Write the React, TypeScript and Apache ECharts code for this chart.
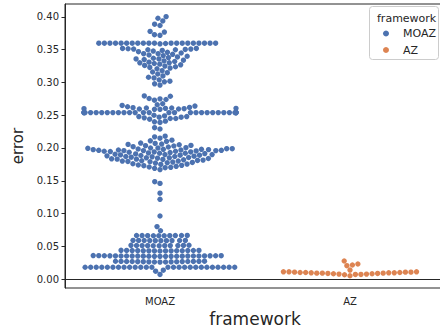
import React, { useEffect, useRef } from "react";
import * as echarts from "echarts";

// ---------- data ----------
const categories = ["MOAZ", "AZ"];
const yTicks = [0, 0.05, 0.1, 0.15, 0.2, 0.25, 0.3, 0.35, 0.4];

const moazTop = [0.4005, 0.398, 0.394, 0.389, 0.387, 0.378, 0.377, 0.373, 0.372];
const moazRow036 = [
  0.36, 0.36, 0.36, 0.36, 0.36, 0.36, 0.36, 0.36, 0.36, 0.36, 0.36,
  0.36, 0.36, 0.36, 0.36, 0.36, 0.36, 0.36, 0.36, 0.36, 0.3595, 0.359,
];
const moazCone = [
  0.352, 0.352, 0.3515, 0.351, 0.351, 0.3505, 0.35, 0.35, 0.349, 0.348,
  0.347, 0.346, 0.345, 0.344, 0.344, 0.343, 0.342, 0.341,
  0.34, 0.339, 0.338, 0.337, 0.336, 0.336, 0.335, 0.334,
  0.333, 0.332, 0.331, 0.33, 0.33, 0.329, 0.328, 0.327,
  0.326, 0.325, 0.324, 0.323, 0.322, 0.321,
  0.318, 0.316, 0.315, 0.313,
  0.31, 0.308, 0.307,
  0.304, 0.302, 0.301,
  0.298, 0.296,
];
const moazUpper025 = [
  0.2795, 0.279, 0.2755, 0.275, 0.274, 0.273, 0.2675, 0.266, 0.265, 0.264, 0.263,
  0.262, 0.2615, 0.261, 0.261, 0.2605, 0.2605, 0.26, 0.26, 0.2595, 0.2595, 0.259, 0.259,
];
const moazRow0254 = [
  0.254, 0.254, 0.254, 0.254, 0.254, 0.254, 0.254, 0.254, 0.254, 0.254,
  0.254, 0.254, 0.254, 0.254, 0.254, 0.254, 0.254, 0.254, 0.254, 0.254,
  0.254, 0.254, 0.254, 0.254, 0.254, 0.254, 0.254, 0.254, 0.254, 0.254,
];
const moazLower025 = [
  0.25, 0.249, 0.248, 0.248, 0.247, 0.247, 0.246, 0.245, 0.245, 0.244,
  0.241, 0.24, 0.239, 0.231, 0.229,
];
const moazMid020 = [
  0.218, 0.217, 0.215, 0.212, 0.211, 0.21,
  0.2075, 0.207, 0.206, 0.2055, 0.205, 0.204, 0.2035, 0.203, 0.202, 0.2015,
  0.2005, 0.2, 0.2, 0.1995, 0.199, 0.199, 0.1985, 0.198, 0.198, 0.1975, 0.197, 0.197,
  0.1965, 0.196, 0.196, 0.1955, 0.195, 0.195, 0.1945, 0.194, 0.194, 0.1935, 0.193,
  0.1975, 0.1965, 0.196,
  0.1925, 0.192, 0.192, 0.1915, 0.191, 0.1905, 0.19, 0.19, 0.1895, 0.189, 0.189,
  0.1885, 0.188, 0.1875, 0.187, 0.187, 0.1865, 0.186, 0.1855, 0.185, 0.185,
  0.1845, 0.184, 0.1835, 0.183, 0.183, 0.1825, 0.182, 0.1815, 0.181,
  0.1805, 0.18, 0.18, 0.1795, 0.179, 0.1785, 0.178, 0.1775,
  0.177, 0.176, 0.1755, 0.175, 0.174, 0.1735, 0.173, 0.172,
  0.171, 0.1705, 0.17, 0.169, 0.167,
];
const moazSparse = [0.1486, 0.146, 0.131, 0.1217, 0.0962, 0.08, 0.0737];
const moazRow0066 = [0.066, 0.066, 0.0661, 0.0662, 0.0662, 0.0663, 0.0663, 0.0664, 0.0664, 0.0665];
const moazRow0059 = [0.0585, 0.0585, 0.0586, 0.0587, 0.0587, 0.0588, 0.0588, 0.0589, 0.0589, 0.059];
const moazRow0051 = [
  0.0508, 0.0508, 0.0509, 0.0509, 0.051, 0.051, 0.0511, 0.0512, 0.0513, 0.0514, 0.0515,
];
const moazRow0043 = [
  0.0428, 0.0429, 0.0429, 0.043, 0.043, 0.0431, 0.0432, 0.0432, 0.0433, 0.0434,
  0.0434, 0.0435, 0.0436, 0.0437, 0.0438,
];
const moazRow0035 = [
  0.0346, 0.0346, 0.0347, 0.0347, 0.0348, 0.0348, 0.0349, 0.0349, 0.035, 0.035,
  0.035, 0.0351, 0.0351, 0.0352, 0.0352, 0.0353, 0.0353, 0.0354, 0.0354, 0.0355,
  0.0355, 0.0356, 0.0357, 0.0358,
];
const moazRow0027 = [
  0.0258, 0.026, 0.026, 0.0262, 0.0263, 0.0264, 0.0265, 0.0265, 0.0266, 0.0267,
  0.0268, 0.0268, 0.0269, 0.027, 0.027, 0.0271, 0.0272,
];
const moazRow0018 = [
  0.018, 0.018, 0.018, 0.018, 0.018, 0.018, 0.018, 0.018, 0.018, 0.018,
  0.018, 0.018, 0.018, 0.018, 0.018, 0.018, 0.018, 0.018, 0.018, 0.018,
  0.018, 0.018, 0.018, 0.018, 0.018, 0.018,
];
const moazBottom = [0.007, 0.012, 0.0135];
const azErrors = [
  0.005, 0.0065, 0.007, 0.007, 0.0075, 0.0075, 0.008, 0.008, 0.0085, 0.0085,
  0.009, 0.009, 0.009, 0.0095, 0.0095, 0.0095, 0.01, 0.01, 0.01, 0.0105,
  0.0105, 0.0105, 0.011, 0.011, 0.011,
  0.0137, 0.0204, 0.0214, 0.0229, 0.0275,
];

const moazErrors = [
  ...moazTop, ...moazRow036, ...moazCone, ...moazUpper025, ...moazRow0254,
  ...moazLower025, ...moazMid020, ...moazSparse, ...moazRow0066, ...moazRow0059,
  ...moazRow0051, ...moazRow0043, ...moazRow0035, ...moazRow0027, ...moazRow0018,
  ...moazBottom,
];

// ---------- style ----------
const FONT = "DejaVu Sans";
const TEXT = "#262626";
const COLORS = ["#4c72b0", "#dd8452"];
const Y_MIN = -0.0137;
const Y_MAX = 0.4198;
const COLLIDE_R = 2.65;
const DOT_R = 2.7;

// seaborn-style beeswarm in pixel space
function beeswarm(ys: number[], mid: number, r: number, half: number): number[] {
  const n = ys.length;
  const order = ys.map((_, i) => i).sort((a, b) => ys[b] - ys[a] || a - b);
  const px: number[] = [];
  const py: number[] = [];
  const xs: number[] = new Array(n).fill(mid);
  const d = 2 * r;
  const d2 = d * d;
  for (const idx of order) {
    const y = ys[idx];
    let start = px.length;
    while (start > 0 && Math.abs(y - py[start - 1]) < d) start--;
    const nb: number[] = [];
    for (let k = start; k < px.length; k++) nb.push(k);
    const cands: number[] = [mid];
    let leftFirst = true;
    for (const k of nb) {
      const dy = y - py[k];
      const dx = Math.sqrt(Math.max(d2 - dy * dy, 0)) * 1.05;
      const cl = px[k] - dx;
      const cr = px[k] + dx;
      if (leftFirst) cands.push(cl, cr);
      else cands.push(cr, cl);
      leftFirst = !leftFirst;
    }
    const sorted = cands
      .map((x, i) => ({ x, i }))
      .sort((a, b) => Math.abs(a.x - mid) - Math.abs(b.x - mid) || a.i - b.i);
    let chosen = mid;
    for (const c of sorted) {
      let ok = true;
      for (const k of nb) {
        const ddx = px[k] - c.x;
        const ddy = py[k] - y;
        if (ddx * ddx + ddy * ddy < d2 - 1e-9) {
          ok = false;
          break;
        }
      }
      if (ok) {
        chosen = c.x;
        break;
      }
    }
    px.push(chosen);
    py.push(y);
    xs[idx] = Math.max(mid - half, Math.min(mid + half, chosen));
  }
  return xs;
}

function makeRenderItem(values: number[], catIndex: number, color: string) {
  let cache: { key: string; xs: number[]; ys: number[] } | null = null;
  return (params: any, api: any) => {
    const p0 = api.coord([catIndex, 0]);
    const band = api.size([1, 0])[0];
    const key = `${p0[0]}_${p0[1]}_${band}`;
    if (!cache || cache.key !== key) {
      const ys = values.map((v) => api.coord([catIndex, v])[1]);
      const xs = beeswarm(ys, p0[0], COLLIDE_R, band * 0.4);
      cache = { key, xs, ys };
    }
    const i = params.dataIndex;
    return {
      type: "circle",
      shape: { cx: cache.xs[i], cy: cache.ys[i], r: DOT_R },
      style: { fill: color },
    };
  };
}

export default function App() {
  const ref = useRef<HTMLDivElement>(null);
  useEffect(() => {
    if (!ref.current) return;
    const chart = echarts.init(ref.current, undefined, { renderer: "svg" });
    const seriesValues = [moazErrors, azErrors];
    const legendY = [33.5, 50];
    const option: any = {
      animation: false,
      grid: {
        left: 65,
        top: 4,
        width: 380,
        height: 284,
        show: true,
        borderColor: TEXT,
        borderWidth: 1,
        backgroundColor: "transparent",
        containLabel: false,
        outerBoundsMode: "none",
      },
      xAxis: {
        type: "category",
        data: categories,
        boundaryGap: true,
        name: "framework",
        nameLocation: "middle",
        nameGap: 19,
        nameTextStyle: { fontFamily: FONT, fontSize: 17, color: TEXT },
        axisLine: { lineStyle: { color: TEXT, width: 1 } },
        axisTick: { alignWithLabel: true, length: 3.5, lineStyle: { color: TEXT } },
        axisLabel: { fontFamily: FONT, fontSize: 10, color: TEXT, margin: 8 },
        splitLine: { show: false },
      },
      yAxis: {
        type: "value",
        min: Y_MIN,
        max: Y_MAX,
        name: "error",
        nameLocation: "middle",
        nameGap: 31,
        nameTextStyle: { fontFamily: FONT, fontSize: 15, color: TEXT },
        axisLine: { show: true, lineStyle: { color: TEXT, width: 1 } },
        axisTick: { show: true, length: 3.5, lineStyle: { color: TEXT }, customValues: yTicks },
        axisLabel: {
          fontFamily: FONT,
          fontSize: 10,
          color: TEXT,
          margin: 6,
          customValues: yTicks,
          formatter: (v: number) => v.toFixed(2),
        },
        splitLine: { show: false },
      },
      graphic: [
        {
          type: "rect",
          z: 10,
          shape: { x: 369.5, y: 6.5, width: 69, height: 53, r: 3 },
          style: { fill: "rgba(255,255,255,0.8)", stroke: "#cccccc", lineWidth: 1 },
        },
        {
          type: "text",
          z: 11,
          x: 377,
          y: 18,
          style: {
            text: "framework",
            fontFamily: FONT,
            fontSize: 11,
            fill: TEXT,
            verticalAlign: "middle",
          },
        },
        ...categories.map((name, ci) => ({
          type: "circle",
          z: 11,
          shape: { cx: 386, cy: legendY[ci], r: 3 },
          style: { fill: COLORS[ci] },
        })),
        ...categories.map((name, ci) => ({
          type: "text",
          z: 11,
          x: 403,
          y: legendY[ci],
          style: {
            text: name,
            fontFamily: FONT,
            fontSize: 11,
            fill: TEXT,
            verticalAlign: "middle",
          },
        })),
      ],
      series: categories.map((name, ci) => ({
        type: "custom",
        name,
        itemStyle: { color: COLORS[ci] },
        encode: { x: 0, y: 1 },
        data: seriesValues[ci].map((v) => [ci, v]),
        renderItem: makeRenderItem(seriesValues[ci], ci, COLORS[ci]),
      })),
    };
    chart.setOption(option);
    return () => chart.dispose();
  }, []);
  return (
    <div
      ref={ref}
      style={{ position: "fixed", left: 0, top: 0, width: 440, height: 329, background: "#fff" }}
    />
  );
}
